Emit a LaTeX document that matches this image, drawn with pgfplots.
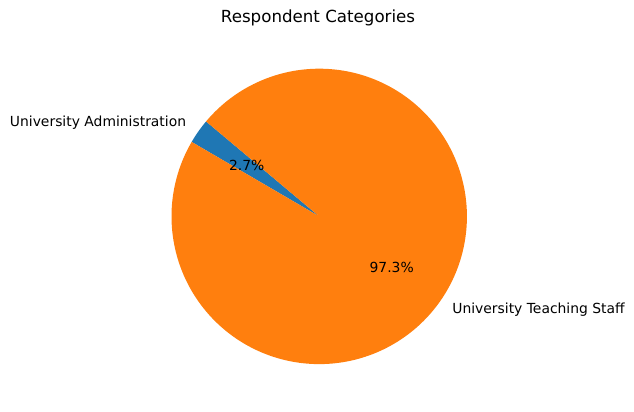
\documentclass[border=0pt]{standalone}
\usepackage{pgfplots}
\pgfplotsset{compat=1.18}
\usepackage{fontspec}
\setmainfont{DejaVu Sans}
\definecolor{mplblue}{HTML}{1F77B4}
\definecolor{mplorange}{HTML}{FF7F0E}
\begin{document}
\begin{tikzpicture}
\begin{axis}[
  scale only axis,
  width=456.48pt, height=295.92pt,
  xmin=-2.161, xmax=2.131,
  ymin=-1.3175, ymax=1.465,
  hide axis,
  clip=false,
]
\path (rel axis cs:0,0) rectangle (rel axis cs:1,1);
% University Administration: 2.7 % -> 140 to 149.72 deg
\addplot[fill=mplblue, draw=none, domain=140:149.72, samples=20]
  ({cos(x)},{sin(x)}) -- (axis cs:0,0) -- cycle;
% University Teaching Staff: 97.3 % -> 149.72 to 500 deg
\addplot[fill=mplorange, draw=none, domain=149.72:500, samples=300]
  ({cos(x)},{sin(x)}) -- (axis cs:0,0) -- cycle;
\node[anchor=east, inner sep=0pt] at (axis cs:-0.8996,0.6331) {University Administration};
\node[anchor=west, inner sep=0pt] at (axis cs:0.8996,-0.6331) {University Teaching Staff};
\node[inner sep=0pt] at (axis cs:-0.4907,0.3454) {2.7\%};
\node[inner sep=0pt] at (axis cs:0.4907,-0.3454) {97.3\%};
\node[inner sep=0pt] at (axis cs:-0.008,1.343) {\fontsize{12}{14}\selectfont Respondent Categories};
\end{axis}
\end{tikzpicture}
\end{document}
